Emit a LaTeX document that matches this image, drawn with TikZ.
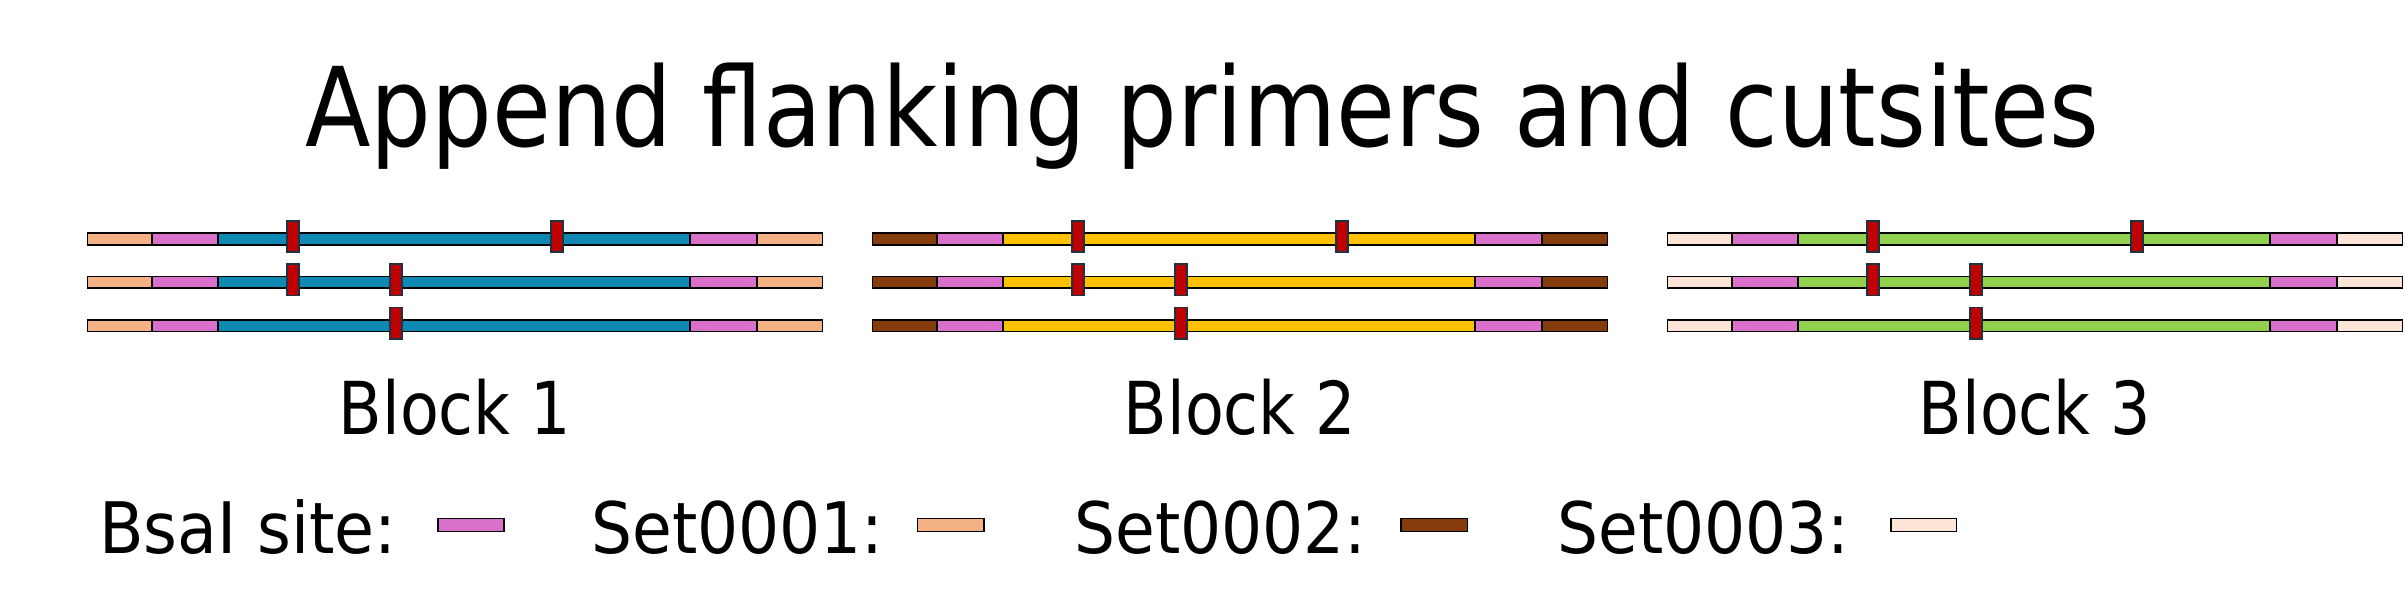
\documentclass[tikz,border=0pt]{standalone}
\usepackage{graphicx}
\usepackage{fontspec}
\setmainfont{DejaVu Sans}
\definecolor{flankA}{HTML}{F4B183}
\definecolor{flankB}{HTML}{843C0C}
\definecolor{flankC}{HTML}{FCE4D6}
\definecolor{bsai}{HTML}{D970C9}
\definecolor{midA}{HTML}{0F89B3}
\definecolor{midB}{HTML}{FFC000}
\definecolor{midC}{HTML}{92D050}
\definecolor{cutred}{HTML}{C00000}
\definecolor{cutedge}{HTML}{1C3343}
\begin{document}
\begin{tikzpicture}[x=0.5pt,y=-0.5pt,
  bar/.style={draw=black,line width=0.85pt},
  cutmark/.style={draw=cutedge,fill=cutred,line width=0.85pt},
  titletext/.style={anchor=base,inner sep=0pt,font=\fontsize{55}{60}\selectfont},
  blocktext/.style={anchor=base,inner sep=0pt,font=\fontsize{36.5}{40}\selectfont},
  legtext/.style={anchor=base west,inner sep=0pt,font=\fontsize{35.5}{40}\selectfont}]
\useasboundingbox (0,0) rectangle (2406,614);
\fill[white] (0,0) rectangle (2406,614);

\node[titletext] (title) at (1202,146.7) {\scalebox{0.87}[1]{Append flanking primers and cutsites}};

% blocks
\foreach \L/\fl/\md in {86.7/flankA/midA, 871.7/flankB/midB, 1666.7/flankC/midC}{
  \foreach \y/\cuts in {239/{206,470}, 282.3/{206,309.5}, 325.6/{309.5}}{
    \draw[bar,fill=\fl] (\L+0.8,\y-5.9) rectangle (\L+65.5,\y+5.9);
    \draw[bar,fill=bsai] (\L+65.5,\y-5.9) rectangle (\L+131.5,\y+5.9);
    \draw[bar,fill=\md] (\L+131.5,\y-5.9) rectangle (\L+603.5,\y+5.9);
    \draw[bar,fill=bsai] (\L+603.5,\y-5.9) rectangle (\L+670.5,\y+5.9);
    \draw[bar,fill=\fl] (\L+670.5,\y-5.9) rectangle (\L+735.8,\y+5.9);
    \foreach \c in \cuts {
      \draw[cutmark] (\L+\c-6,\y-2.5-15.7) rectangle (\L+\c+6,\y-2.5+15.7);
    }
  }
}

\node[blocktext] (b1) at (455,435) {\scalebox{0.87}[1]{Block 1}};
\node[blocktext] (b2) at (1240,435) {\scalebox{0.87}[1]{Block 2}};
\node[blocktext] (b3) at (2035,435) {\scalebox{0.87}[1]{Block 3}};

% legend
\node[legtext] (l0) at (99,553.3) {\scalebox{0.915}[1]{BsaI site:}};
\draw[bar,fill=bsai] (438.1,518.5) rectangle (504.2,531.5);
\node[legtext] (l1) at (591,553.3) {\scalebox{0.91}[1]{Set0001:}};
\draw[bar,fill=flankA] (917.5,518.5) rectangle (984.2,531.5);
\node[legtext] (l2) at (1074,553.3) {\scalebox{0.91}[1]{Set0002:}};
\draw[bar,fill=flankB] (1400.8,518.5) rectangle (1467.5,531.5);
\node[legtext] (l3) at (1557,553.3) {\scalebox{0.91}[1]{Set0003:}};
\draw[bar,fill=flankC] (1890.8,518.5) rectangle (1956.5,531.5);
\end{tikzpicture}
\end{document}
